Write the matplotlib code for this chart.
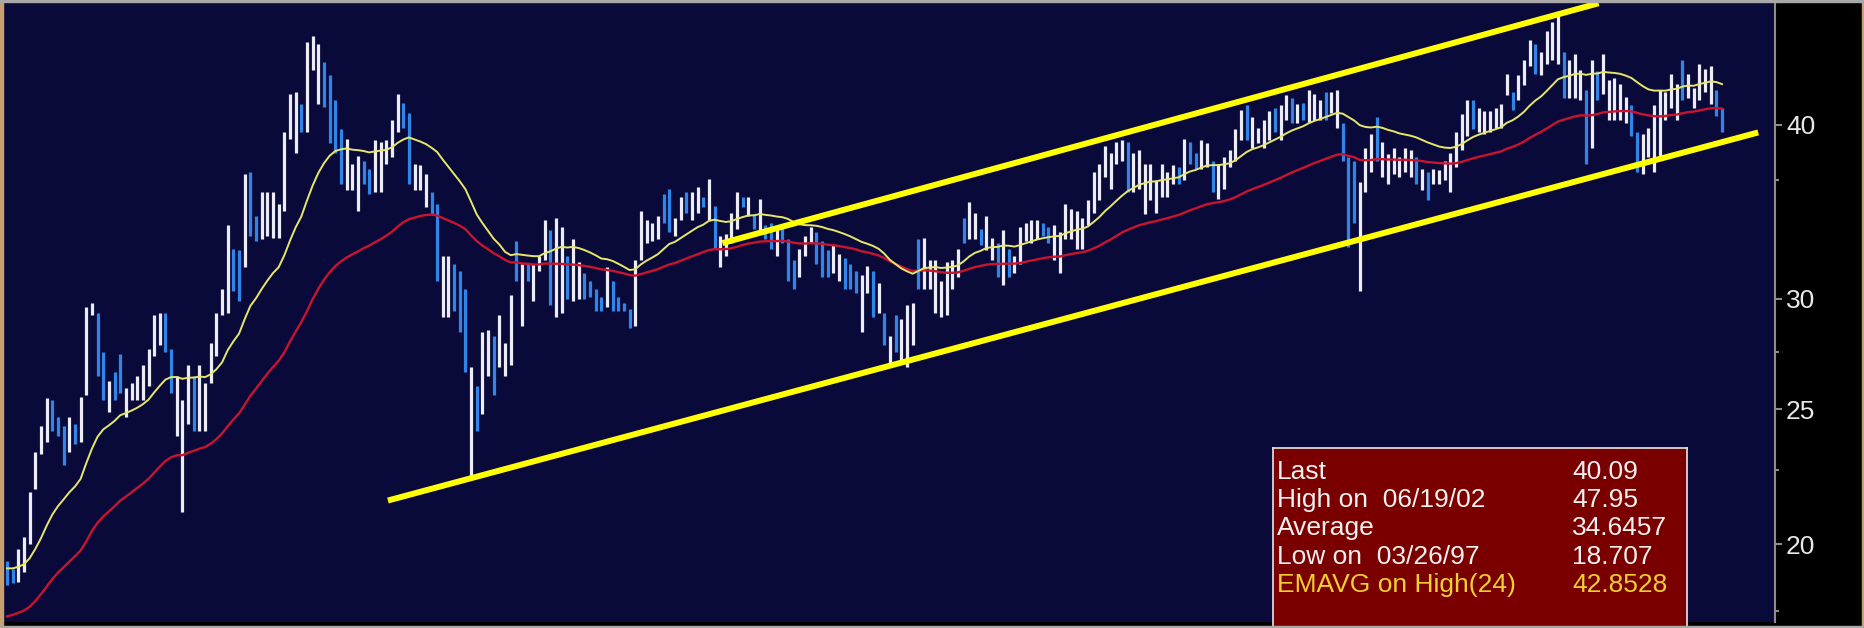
#Weekly price range chart with EMA lines and trend channel

import numpy as np
import matplotlib.pyplot as plt
from matplotlib.patches import Rectangle
from matplotlib.ticker import FixedLocator, NullFormatter

# weekly highs / lows in six stretches
high_1 = [19.47, 19.2, 19.85, 20.25, 21.8, 23.3, 24.3, 25.45, 25.4, 24.7, 24.3, 24.7, 24.4, 25.5,
          29.6, 29.8, 29.3, 27.5, 26.2, 26.6, 27.4, 25.9, 26.1, 26.4, 26.9, 27.6, 29.2, 29.3, 29.3,
          27.6, 26.4, 25.4, 26.9, 26.4, 26.9, 26.1, 27.9, 29.3, 30.5, 33.9, 32.6, 32.5, 36.9, 37.0,
          34.4, 35.8, 35.8, 35.8, 35.1, 39.5, 42.1, 42.2, 41.4]
low_1 = [18.71, 18.75, 18.8, 19.1, 20.0, 21.9, 23.2, 23.7, 24.1, 23.9, 22.8, 23.3, 23.6, 23.7,
         25.6, 29.2, 26.4, 25.4, 24.9, 25.4, 25.7, 24.7, 25.4, 25.4, 25.4, 26.0, 27.3, 27.8, 27.5,
         25.7, 23.9, 21.1, 24.4, 24.1, 24.1, 24.1, 26.1, 27.3, 29.2, 29.3, 30.4, 29.9, 31.6, 33.3,
         33.0, 33.1, 33.3, 33.2, 33.2, 34.7, 39.1, 38.2, 39.5]
dir_1 = "bbwwwwwwbb" "bwbwwwbbwb" "bwwwwwwwbb" "wwwbwwwwww" "bbwbbwwwww" "wwb"

high_2 = [45.9, 46.3, 45.7, 44.4, 43.4, 41.7, 39.7, 39.1, 37.5, 38.0, 37.7, 37.2, 39.0, 38.9,
          39.0, 40.3, 42.1, 41.5, 40.8, 37.5, 37.4, 36.9, 35.8, 35.1, 32.2, 32.2, 31.8, 31.4, 30.5,
          26.8, 26.0, 28.4, 28.5, 28.2, 29.2, 27.9, 30.2, 33.0, 31.8, 31.8, 31.8, 32.2, 34.2, 33.6,
          34.3, 33.8, 32.2, 33.1, 31.9, 31.3, 30.9, 30.5, 30.1, 31.6]
low_2 = [39.5, 43.8, 41.4, 41.2, 38.8, 38.2, 36.3, 35.9, 35.9, 34.7, 36.3, 35.7, 35.8, 35.8,
         37.5, 37.9, 39.5, 39.8, 36.3, 35.9, 35.9, 34.9, 34.5, 30.9, 29.1, 29.1, 29.4, 28.4, 26.6,
         22.4, 24.1, 24.8, 26.4, 25.6, 26.8, 26.4, 26.9, 30.9, 28.7, 30.9, 29.9, 31.4, 32.0, 29.7,
         29.1, 29.3, 30.0, 29.9, 30.0, 30.0, 30.1, 29.4, 29.4, 29.6]
dir_2 = "wwwbbbbwww" "bbwwwwwbbw" "wwbbwwbbbw" "bwwbwwwbwb" "wwwbwwbwwb" "bbbw"

high_3 = [30.9, 30.1, 29.8, 29.5, 32.0, 34.7, 34.2, 34.0, 34.4, 35.7, 36.0, 34.3, 35.5, 35.8,
          35.8, 36.1, 35.5, 36.6, 35.0, 33.3, 33.4, 34.6, 35.8, 35.5, 35.5, 34.5, 35.4, 33.9, 34.0,
          33.7, 33.9, 33.1, 32.0, 32.6, 33.3, 33.8, 33.5, 33.0, 32.5, 32.8, 32.3, 32.1, 31.8, 31.4,
          31.2, 31.7, 31.4, 30.8, 29.3, 28.2, 29.2, 29.0, 29.7]
low_3 = [29.4, 29.4, 29.4, 28.6, 28.7, 32.0, 32.9, 33.0, 33.1, 34.0, 33.5, 33.3, 34.2, 34.6,
         34.2, 34.6, 34.9, 34.2, 32.6, 31.6, 32.2, 32.9, 33.7, 34.9, 34.4, 33.7, 33.5, 33.1, 32.6,
         32.2, 32.9, 30.9, 30.5, 31.1, 32.2, 32.9, 31.8, 31.1, 31.1, 31.3, 30.9, 30.5, 30.5, 30.3,
         28.4, 30.3, 29.1, 29.3, 27.8, 26.9, 27.5, 27.1, 26.8]
dir_3 = "bbbbwwwwwb" "bwwbwwbwbw" "wwwbwbwbbw" "bbbwwwbbbw" "wbbbwwbwbw" "bww"

high_4 = [29.8, 33.1, 33.2, 32.0, 32.0, 30.9, 31.9, 32.0, 32.6, 34.3, 35.2, 34.6, 33.7,
          34.4, 33.2, 32.9, 33.6, 32.6, 32.2, 33.8, 34.0, 34.2, 34.2, 34.0, 33.8,
          33.9, 33.5, 35.1, 34.8, 34.7, 34.3, 35.3, 37.0, 37.5, 38.6, 38.2, 38.9, 39.0, 38.9, 38.2,
          38.4, 37.5, 37.5, 36.5, 37.5, 37.0, 37.4, 37.3, 39.1, 38.9, 38.2, 39.0]
low_4 = [27.8, 30.5, 30.5, 30.5, 29.3, 29.1, 29.2, 30.5, 31.1, 32.9, 33.1, 33.1, 32.8,
         32.5, 32.0, 31.1, 30.7, 31.1, 31.3, 31.8, 33.0, 32.9, 33.1, 33.3, 32.9,
         32.0, 31.3, 33.1, 33.1, 32.6, 32.6, 33.9, 34.6, 35.3, 36.7, 36.0, 37.5, 37.7, 35.8, 35.8,
         36.0, 34.5, 35.3, 34.6, 35.5, 35.5, 36.3, 36.3, 36.5, 37.5, 37.2, 37.2]
dir_4 = "wbwwwwwwwb" "wwbwwbwbww" "wwwbbwwwww" "wwwwwwwwbw" "wwwwwwwbwb" "bw"

high_5 = [38.8, 37.7, 37.5, 37.9, 38.4, 39.7, 41.0, 41.3, 40.5, 39.8, 40.3, 40.9, 41.1,
          41.3, 42.0, 41.8, 41.4, 41.5, 42.4, 42.1, 41.7, 42.2, 42.2, 42.4, 40.1,
          37.9, 37.7, 36.4, 38.5, 39.4, 40.5, 38.9, 38.1, 38.5, 37.9, 38.5, 38.4, 37.9, 37.2,
          37.0, 37.2, 37.1, 37.7, 38.2, 39.5, 40.7, 41.7, 41.7, 41.1, 40.9, 40.9, 41.1]
low_5 = [37.3, 35.8, 35.4, 36.0, 37.3, 37.7, 39.0, 39.0, 38.5, 38.8, 38.5, 39.0, 39.5,
         39.0, 40.3, 40.1, 40.1, 40.3, 40.2, 40.3, 40.3, 40.3, 40.8, 39.8, 37.7,
         32.7, 34.0, 30.4, 35.8, 37.0, 37.7, 36.7, 36.3, 36.9, 36.7, 37.0, 36.7, 36.3, 35.9,
         35.3, 36.3, 36.3, 36.5, 35.8, 37.3, 38.4, 39.3, 39.7, 39.5, 39.4, 39.5, 39.8]
dir_5 = "wbwwwwwbww" "wwbwwbwbww" "wbwwbbbwww" "bwwwwwwbwb" "wwwwwwwbww" "ww"

high_6 = [41.4, 43.5, 42.2, 43.4, 44.5, 46.0, 45.7, 45.1, 46.7, 47.4, 47.95, 45.1,
          44.5, 45.0, 43.8, 42.4, 44.5, 43.7, 45.0, 43.1, 43.2, 42.8, 41.9, 41.3, 39.5,
          39.4, 39.8, 41.3, 42.4, 42.2, 43.5, 42.8, 44.5, 43.5, 42.5, 44.2, 43.9, 44.1, 42.4, 41.1]
low_6 = [39.8, 42.0, 41.0, 41.7, 42.7, 44.1, 43.5, 43.4, 44.2, 44.5, 44.2, 41.8,
         41.8, 41.8, 41.7, 37.5, 38.5, 41.7, 42.1, 40.3, 40.3, 40.3, 40.1, 39.3, 37.0,
         36.9, 37.9, 37.0, 38.0, 40.3, 41.1, 40.3, 41.7, 41.8, 41.1, 41.7, 42.2, 41.4, 40.6, 39.5]
dir_6 = "wwbwwwbwww" "wbwwwbwbww" "wwwbbwwwww" "wwbwwwwwbb"

# moving averages (start values read at the left edge)
ema_fast_span, ema_fast_start = 24, 19.2   # on the highs
ema_slow_span, ema_slow_start = 52, 17.7   # on the bar middles

# trend channel: (bar, price) end points
upper_line = [(126.4, 32.9), (281.2, 48.9)]
lower_line = [(67.3, 21.5), (309.4, 39.5)]

# info box
info_labels = ['Last', 'High on  06/19/02', 'Average', 'Low on  03/26/97', 'EMAVG on High(24)']
info_values = ['40.09', '47.95', '34.6457', '18.707', '42.8528']

y_ticks = [20, 25, 30, 40]
y_minor = [17.9, 22.6, 27.5, 36.5]

high = np.array(high_1 + high_2 + high_3 + high_4 + high_5 + high_6)
low = np.array(low_1 + low_2 + low_3 + low_4 + low_5 + low_6)
dirs = dir_1 + dir_2 + dir_3 + dir_4 + dir_5 + dir_6
n = len(high)
x = np.arange(n)

def ema(values, span, start):
    a = 2.0 / (span + 1)
    out = []
    v = start
    for h in values:
        v = v + a * (h - v)
        out.append(v)
    return np.array(out)

ema_fast = ema(high, ema_fast_span, ema_fast_start)
ema_slow = ema((high + low) / 2, ema_slow_span, ema_slow_start)

W, H = 1865, 628
fig = plt.figure(figsize=(W / 100, H / 100), dpi=100, facecolor='black')

def px_axes(x0, y0, x1, y1):
    return fig.add_axes([x0 / W, 1 - y1 / H, (x1 - x0) / W, (y1 - y0) / H])

ax = px_axes(3, 2, 1775, 622)
ax.set_facecolor('#0a0a3a')
sp = 1715 / (n - 1)
ax.set_xlim(-4 / sp, n - 1 + 53 / sp)
ax.set_yscale('log')
ax.set_ylim(17.59, 49.0)

cols = ['#ececf6' if d == 'w' else '#2f86e8' for d in dirs]
ax.vlines(x, low, high, colors=cols, linewidth=2.3)
ax.plot(x, ema_slow, color='#c8142e', lw=1.7)
ax.plot(x, ema_fast, color='#e6e66a', lw=1.4)

for line in (upper_line, lower_line):
    xs, ys = zip(*line)
    ax.plot(xs, ys, color='#ffff00', lw=4.3, solid_capstyle='butt')

ax.set_xticks([])
ax.yaxis.tick_right()
ax.set_yticks(y_ticks)
ax.set_yticklabels([str(t) for t in y_ticks], fontfamily='Liberation Sans')
ax.yaxis.set_minor_locator(FixedLocator(y_minor))
ax.yaxis.set_minor_formatter(NullFormatter())
ax.tick_params(axis='y', which='major', colors='#8c8c8c', labelcolor='#e8e8e8',
               length=5, width=1.5, pad=3, labelsize=19)
ax.tick_params(axis='y', which='minor', colors='#8c8c8c', length=3, width=1.5)
for s in ['left', 'top', 'bottom']:
    ax.spines[s].set_visible(False)
ax.spines['right'].set_color('#8c8c8c')
ax.spines['right'].set_linewidth(1.5)

# info box
bx = px_axes(1273, 448, 1687, 628)
bx.set_facecolor('#7a0000')
bx.set_xticks([])
bx.set_yticks([])
for s in bx.spines.values():
    s.set_color('#e8e8e8')
    s.set_linewidth(1.2)
row_y = [472, 500, 528, 557, 585]
for lab, val, yy in zip(info_labels, info_values, row_y):
    c = '#f0d030' if lab.startswith('EMAVG') else '#f0f0f0'
    fig.text(1277 / W, 1 - yy / H, lab, color=c, fontsize=19, va='center',
             fontfamily='Liberation Sans')
    fig.text(1572 / W, 1 - yy / H, val, color=c, fontsize=19, va='center',
             fontfamily='Liberation Sans')

# window frame
fig.patches.append(Rectangle((0, 0), 3 / W, 1, transform=fig.transFigure, color='#c8a070'))
fig.patches.append(Rectangle((1862 / W, 0), 3 / W, 1, transform=fig.transFigure, color='#c8a070'))
fig.patches.append(Rectangle((0, 1 - 2 / H), 1, 2 / H, transform=fig.transFigure, color='#a8a8a8'))
fig.patches.append(Rectangle((0, 0), 1, 2 / H, transform=fig.transFigure, color='#a8a8a8'))

plt.savefig('out.png', dpi=100, facecolor='black')
